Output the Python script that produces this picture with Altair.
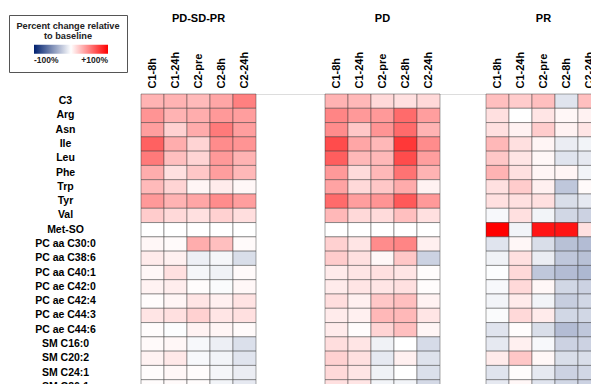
import altair as alt
import pandas as pd

rows = ["C3", "Arg", "Asn", "Ile", "Leu", "Phe", "Trp", "Tyr", "Val", "Met-SO",
        "PC aa C30:0", "PC aa C38:6", "PC aa C40:1", "PC ae C42:0", "PC ae C42:4",
        "PC ae C44:3", "PC ae C44:6", "SM C16:0", "SM C20:2", "SM C24:1", "SM C26:1"]
timepoints = ["C1-8h", "C1-24h", "C2-pre", "C2-8h", "C2-24h"]
panels = ["PD-SD-PR", "PD", "PR"]

pd_sd_pr = [
    [30, 30, 27, 35, 50],
    [42, 30, 32, 40, 38],
    [38, 18, 33, 52, 38],
    [62, 32, 17, 45, 42],
    [52, 25, 17, 40, 30],
    [32, 12, 22, 38, 28],
    [27, 17, 4, 8, 3],
    [40, 30, 35, 45, 38],
    [20, 15, 12, 18, 13],
    [0, 0, 0, 0, 0],
    [3, 2, 32, 25, 2],
    [8, 6, -7, -4, -15],
    [3, 12, -4, -6, 2],
    [5, 7, 1, -2, 3],
    [1, 4, 10, 6, 11],
    [10, 12, 18, 10, 12],
    [1, -1, 5, 4, 2],
    [2, 3, -3, -7, -14],
    [5, 9, -3, -5, -12],
    [1, 3, 1, -4, -8],
    [1, 2, 1, -5, -10],
]
pd_only = [
    [30, 28, 15, 12, 15],
    [48, 40, 40, 58, 38],
    [45, 22, 42, 58, 30],
    [70, 35, 28, 78, 45],
    [63, 28, 28, 70, 38],
    [40, 14, 28, 55, 30],
    [36, 15, 22, 33, 5],
    [58, 38, 42, 65, 40],
    [28, 15, 14, 25, 12],
    [0, 0, 0, 0, 0],
    [18, 10, 45, 48, 6],
    [20, 12, 3, 22, -20],
    [8, 10, 12, 10, 1],
    [8, 10, 10, 12, 1],
    [13, 6, 22, 25, 5],
    [8, 6, 28, 28, 10],
    [8, 1, 17, 25, 4],
    [13, 10, -6, 0, -16],
    [18, 12, -10, 6, -13],
    [15, 10, -6, 0, -14],
    [12, 10, -5, -5, -17],
]
pr_only = [
    [25, 20, 25, -12, 25],
    [12, 0, 10, 3, 5],
    [12, 5, 20, 5, 10],
    [28, 12, 4, -8, -5],
    [22, 10, 3, -12, -10],
    [30, 12, 4, 4, -5],
    [12, 20, 6, -25, 2],
    [12, 12, 12, -15, -10],
    [-3, 12, -5, -18, -20],
    [100, -5, 92, 92, 12],
    [-12, 3, -15, -28, -30],
    [-6, 12, -8, -25, -28],
    [-1, 15, -25, -30, -32],
    [-3, 15, 3, -18, -20],
    [-5, 8, -5, -22, -18],
    [-2, 15, 8, -18, -18],
    [-12, 1, -15, -30, -25],
    [-10, 6, -3, -20, -20],
    [8, 22, 3, -15, -15],
    [-12, 1, -10, -20, -18],
    [-10, 3, -12, -18, -20],
]
panel_values = {"PD-SD-PR": pd_sd_pr, "PD": pd_only, "PR": pr_only}

# x domain with empty spacer bands between panels
x_domain = ([f"PD-SD-PR|{t}" for t in timepoints] + ["_s1", "_s2", "_s3"] +
            [f"PD|{t}" for t in timepoints] + ["_s4", "_s5"] +
            [f"PR|{t}" for t in timepoints])

records = []
for p in panels:
    for i, r in enumerate(rows):
        for j, t in enumerate(timepoints):
            records.append({"key": f"{p}|{t}", "row": r, "value": panel_values[p][i][j]})
df = pd.DataFrame(records)
titles_df = pd.DataFrame({"panel": panels, "key": [f"{p}|C2-pre" for p in panels]})

FONT = "Liberation Sans"
# the grid runs past the visible page on the right and bottom, as in the reference
xscale = alt.Scale(domain=x_domain, paddingInner=0, paddingOuter=0, range=[0, 460])
yscale = alt.Scale(domain=rows, paddingInner=0, paddingOuter=0, range=[0, 300])

heat = alt.Chart(df).mark_rect(stroke="#333333", strokeWidth=0.8, strokeOpacity=0.55).encode(
    x=alt.X("key:O", scale=xscale,
            axis=alt.Axis(orient="top", title=None, labelAngle=270, labelAlign="left",
                          labelBaseline="middle", labelPadding=6, ticks=False, domain=False,
                          labelFontSize=11, labelFontWeight="bold", labelColor="#000000",
                          labelFont=FONT,
                          labelExpr="indexof(datum.label, '|') >= 0 ? split(datum.label, '|')[1] : ''")),
    y=alt.Y("row:N", sort=rows, scale=yscale,
            axis=alt.Axis(title=None, ticks=False, domain=False, labelAlign="center",
                          labelPadding=76, labelFontSize=10.5, labelFontWeight="bold",
                          labelColor="#000000", labelFont=FONT)),
    color=alt.Color("value:Q",
                    scale=alt.Scale(domain=[-100, 0, 100],
                                    range=["#00206e", "#ffffff", "#ff0000"],
                                    interpolate="rgb"),
                    legend=alt.Legend(orient="none", legendX=-132, legendY=-79,
                                      direction="horizontal", gradientLength=74,
                                      gradientThickness=9,
                                      title=["Percent change relative", "to baseline"],
                                      titleFontSize=9.2, titleFontWeight="bold", titleFont=FONT,
                                      titleAnchor="middle", titleAlign="center",
                                      titleLineHeight=9.5,
                                      titleColor="#222222", titlePadding=4,
                                      values=[-100, 100],
                                      labelExpr="datum.value > 0 ? '+' + datum.value + '%' : datum.value + '%'",
                                      labelFontSize=8.5, labelFontWeight="bold", labelFont=FONT,
                                      labelColor="#222222",
                                      strokeColor="#555555", padding=7,
                                      gradientStrokeWidth=0)),
)

titles = alt.Chart(titles_df).mark_text(fontSize=11, fontWeight="bold", font=FONT,
                                         color="#000000", baseline="middle").encode(
    x=alt.X("key:O", scale=xscale),
    y=alt.value(-75),
    text="panel:N",
)

chart = alt.layer(heat, titles).properties(
    width=450, height=290,
    autosize=alt.AutoSizeParams(type="none"),
    padding={"left": 133, "top": 86, "right": 0, "bottom": 0},
).configure_view(stroke=None).configure(background="#ffffff")

chart.save("out.html", embed_options={"renderer": "svg", "actions": False})
